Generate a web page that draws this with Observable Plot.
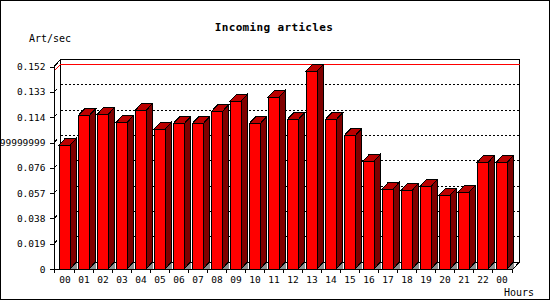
<!DOCTYPE html>
<html>
<head>
<meta charset="utf-8">
<script src="https://cdn.jsdelivr.net/npm/d3@7"></script>
<script src="https://cdn.jsdelivr.net/npm/@observablehq/plot@0.6"></script>
<style>
html, body { margin: 0; padding: 0; background: #fff; }
#chart { position: relative; width: 550px; height: 300px; overflow: hidden; }
#chart svg { display: block; shape-rendering: crispEdges; }
</style>
</head>
<body>
<div id="chart"></div>
<script>
// ---- data ----
const chartTitle = "Incoming articles";
const yUnit = "Art/sec";
const xUnit = "Hours";
const hours = ["00","01","02","03","04","05","06","07","08","09","10","11","12","13","14","15","16","17","18","19","20","21","22","00"];
const rates = [0.093, 0.115, 0.116, 0.110, 0.119, 0.105, 0.109, 0.109, 0.118, 0.126, 0.109, 0.129,
               0.112, 0.1485, 0.112, 0.100, 0.081, 0.060, 0.059, 0.062, 0.0553, 0.0576, 0.080, 0.080];
const yTicks = [0, 0.019, 0.038, 0.057, 0.076, 0.095, 0.114, 0.133, 0.152];
const yTickLabels = ["0", "0.019", "0.038", "0.057", "0.076", "0.0949999999999", "0.114", "0.133", "0.152"];

// ---- styling ----
const DX = 6.5, DY = 7;
const COL = { front: "#ff0000", side: "#800000", top: "#bb0000", floor: "#8c8c8c", max: "#ff0000" };
const MONO = "'DejaVu Sans Mono', 'Liberation Mono', monospace";

const idx = hours.map((_, i) => i);
const table = rates.map((v, i) => ({ i, v }));

function getCtx(args) {
  const s = args.find(a => a && typeof a.x === "function" && typeof a.y === "function");
  const d = args.find(a => a && typeof a.marginLeft === "number" && typeof a.width === "number");
  let bw;
  if (typeof s.x.bandwidth === "function") bw = s.x.bandwidth();
  else if (typeof s.x.bandwidth === "number") bw = s.x.bandwidth;
  else bw = s.scales && s.scales.x && s.scales.x.bandwidth;
  let step = typeof s.x.step === "function" ? s.x.step() : (s.x(1) - s.x(0));
  if (bw == null) bw = step * 0.6;
  return { s, d, bw, step };
}
const pts = a => a.map(p => p[0] + "," + p[1]).join(" ");

function backWall(...args) {
  const { s, d } = getCtx(args);
  const g = d3.create("svg:g");
  const x0 = d.marginLeft, x1 = d.width - d.marginRight;
  const y0 = s.y(0), yT = s.y(yTicks[yTicks.length - 1]);
  g.append("rect").attr("x", x0 + DX).attr("y", yT - DY)
    .attr("width", x1 - x0).attr("height", y0 - yT)
    .attr("fill", "white").attr("stroke", "black");
  for (const t of yTicks.slice(1, -1)) {
    const y = s.y(t) - DY;
    g.append("line").attr("x1", x0 + DX).attr("x2", x1 + DX).attr("y1", y).attr("y2", y)
      .attr("stroke", "black").attr("stroke-dasharray", "2,2");
  }
  const ym = s.y(d3.max(rates));
  g.append("polyline").attr("points", pts([[x0, ym], [x0 + DX, ym - DY], [x1 + DX, ym - DY]]))
    .attr("fill", "none").attr("stroke", COL.max);
  return g.node();
}

function barDepth(...args) {
  const { s, bw } = getCtx(args);
  const g = d3.create("svg:g");
  const y0 = s.y(0);
  rates.forEach((v, i) => {
    const xl = s.x(i), xr = xl + bw, yv = s.y(v);
    g.append("polygon").attr("points", pts([[xr, y0], [xr + DX, y0 - DY], [xr + DX, y0]]))
      .attr("fill", COL.floor);
    g.append("polygon").attr("points", pts([[xr, y0], [xr + DX, y0 - DY], [xr + DX, yv - DY], [xr, yv]]))
      .attr("fill", COL.side).attr("stroke", "black");
    g.append("polygon").attr("points", pts([[xl, yv], [xl + DX, yv - DY], [xr + DX, yv - DY], [xr, yv]]))
      .attr("fill", COL.top).attr("stroke", "black");
  });
  return g.node();
}

function frontAxes(...args) {
  const { s, d, bw, step } = getCtx(args);
  const g = d3.create("svg:g");
  const x0 = d.marginLeft, x1 = d.width - d.marginRight;
  const y0 = s.y(0), yT = s.y(yTicks[yTicks.length - 1]);
  g.append("polyline").attr("points", pts([[x0 + DX, yT - DY], [x0, yT], [x0, y0], [x1, y0], [x1 + DX, y0 - DY]]))
    .attr("fill", "none").attr("stroke", "black");
  // tiny depth stubs at y ticks
  for (const t of yTicks.slice(1)) {
    const y = s.y(t);
    g.append("line").attr("x1", x0 + 1).attr("y1", y - 1).attr("x2", x0 + 3).attr("y2", y - 3).attr("stroke", "black");
  }
  // x ticks between categories
  const gap = step - bw;
  for (let i = 0; i <= hours.length; i++) {
    const xt = i === 0 ? x0 : (i < hours.length ? s.x(i) - gap / 2 : x1 - 1);
    g.append("line").attr("x1", xt).attr("x2", xt).attr("y1", y0).attr("y2", y0 + 4).attr("stroke", "black");
  }
  // texts
  g.append("text").attr("x", 274).attr("y", 31).attr("text-anchor", "middle")
    .attr("font-weight", "bold").attr("font-size", "11px").attr("letter-spacing", "0.35px")
    .attr("fill", "black").text(chartTitle);
  g.append("text").attr("x", 29).attr("y", 42).attr("text-anchor", "start")
    .attr("font-size", "10px").attr("fill", "black").text(yUnit);
  g.append("text").attr("x", 504).attr("y", 295.5).attr("text-anchor", "start")
    .attr("font-size", "10px").attr("fill", "black").text(xUnit);
  // outer border
  g.append("rect").attr("x", 0.5).attr("y", 0.5).attr("width", d.width - 1).attr("height", d.height - 1)
    .attr("fill", "none").attr("stroke", "black");
  return g.node();
}

const chart = Plot.plot({
  width: 550,
  height: 300,
  marginTop: 66.6,
  marginBottom: 31,
  marginLeft: 54,
  marginRight: 37,
  style: { fontFamily: MONO, fontSize: "9.5px", background: "white", color: "black" },
  x: {
    type: "band", domain: idx, paddingInner: 0.4, paddingOuter: 0.15,
    tickSize: 0, tickPadding: 7, tickFormat: i => hours[i], label: null
  },
  y: {
    domain: [0, 0.152], ticks: yTicks,
    tickFormat: v => yTickLabels[yTicks.indexOf(v)],
    tickSize: 4, tickPadding: 5, label: null
  },
  marks: [
    backWall,
    Plot.barY(table, { x: "i", y: "v", fill: COL.front, stroke: "black" }),
    barDepth,
    frontAxes
  ]
});
document.getElementById("chart").appendChild(chart);
</script>
</body>
</html>
